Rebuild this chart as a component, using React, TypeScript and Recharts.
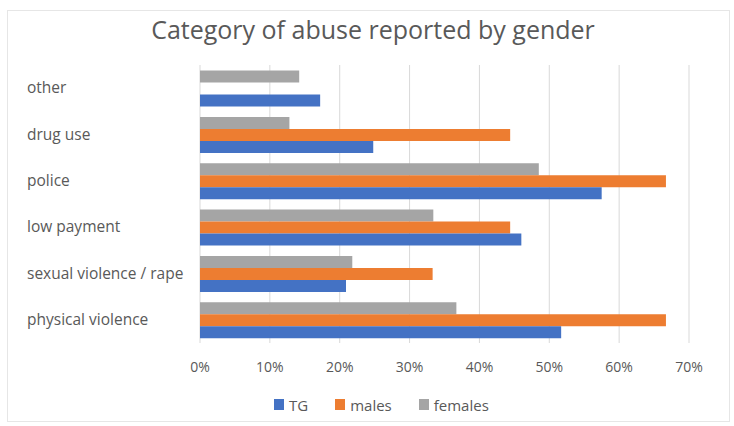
import { BarChart, Bar, XAxis, YAxis, CartesianGrid, Legend } from "recharts";

const categories = [
  "other",
  "drug use",
  "police",
  "low payment",
  "sexual violence / rape",
  "physical violence",
];
const tgValues = [0.172, 0.248, 0.575, 0.46, 0.209, 0.517];
const maleValues = [0, 0.444, 0.667, 0.444, 0.333, 0.667];
const femaleValues = [0.142, 0.128, 0.485, 0.334, 0.218, 0.367];
const xTicks = [0, 0.1, 0.2, 0.3, 0.4, 0.5, 0.6, 0.7];

const series = [
  { key: "TG", color: "#4472C4" },
  { key: "males", color: "#ED7D31" },
  { key: "females", color: "#A5A5A5" },
];

const data = categories.map((name, i) => ({
  name,
  TG: tgValues[i],
  males: maleValues[i],
  females: femaleValues[i],
}));

const font = "'Open Sans', sans-serif";
const textColor = "#595959";

const CategoryTick = (props: any) => {
  const { y, payload } = props;
  return (
    <text x={27} y={y} dy={5} fill={textColor} fontSize={15.5} fontFamily={font} textAnchor="start">
      {payload.value}
    </text>
  );
};

const LegendContent = () => (
  <div style={{ display: "flex", gap: 27, height: 23, paddingLeft: 274, alignItems: "center", fontFamily: font, fontSize: 15, color: textColor }}>
    {series.map((s) => (
      <div key={s.key} style={{ display: "flex", alignItems: "center", gap: 5 }}>
        <span style={{ width: 10, height: 11, background: s.color, display: "inline-block" }} />
        {s.key}
      </div>
    ))}
  </div>
);

export default function App() {
  return (
    <div style={{ position: "absolute", left: 0, top: 0, width: 734, height: 426, background: "#fff" }}>
      <div style={{ position: "absolute", left: 7, top: 10, right: 4, bottom: 4, border: "1px solid #e6e6e6" }} />
      <div style={{ position: "absolute", top: 12, left: 0, width: 746, textAlign: "center", fontFamily: font, fontSize: 25, color: textColor }}>
        Category of abuse reported by gender
      </div>
      <BarChart
        width={734}
        height={426}
        data={data}
        layout="vertical"
        margin={{ top: 65, right: 45, bottom: 10, left: 0 }}
        barCategoryGap="12%"
        barGap={0}
        style={{ position: "absolute", left: 0, top: 0 }}
      >
        <CartesianGrid horizontal={false} stroke="#d9d9d9" />
        <XAxis
          type="number"
          domain={[0, 0.7]}
          ticks={xTicks}
          tickFormatter={(v) => `${Math.round(v * 100)}%`}
          axisLine={false}
          tickLine={false}
          height={50}
          tickMargin={13}
          tick={{ fill: textColor, fontSize: 14, fontFamily: font }}
        />
        <YAxis type="category" dataKey="name" width={200} axisLine={false} tickLine={false} tick={<CategoryTick />} />
        <Legend verticalAlign="bottom" content={<LegendContent />} />
        <Bar dataKey="females" fill="#A5A5A5" isAnimationActive={false} />
        <Bar dataKey="males" fill="#ED7D31" isAnimationActive={false} />
        <Bar dataKey="TG" fill="#4472C4" isAnimationActive={false} />
      </BarChart>
    </div>
  );
}
